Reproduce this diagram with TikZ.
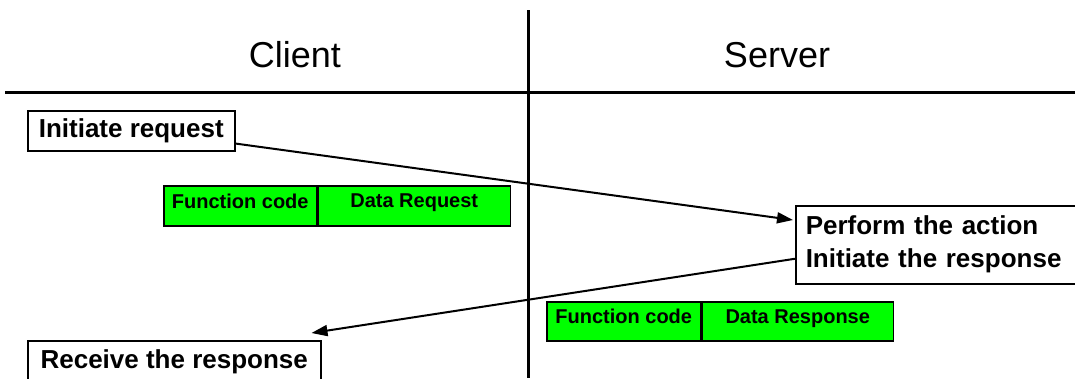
\documentclass[tikz,border=0pt]{standalone}
\usepackage{fontspec}
\setmainfont{Liberation Sans}
\usetikzlibrary{arrows.meta,calc,positioning}

\begin{document}
\begin{tikzpicture}[x=1pt,y=-1pt,
		stepbox/.style={draw=black,line width=1.5pt,fill=white,inner sep=0pt,
			font=\fontsize{26}{33}\selectfont\bfseries},
		cell/.style={draw=black,line width=1.5pt,fill=green,inner sep=0pt,
			minimum height=40pt,text depth=10pt,font=\fontsize{20}{24}\selectfont\bfseries},
		msg/.style={line width=2pt,-{Triangle[length=16pt,width=11pt]}},
		lane/.style={line width=3pt},
		head/.style={font=\fontsize{36}{40}\selectfont}]
		\useasboundingbox (0,0) rectangle (1075,378);
		
		% lanes
		\draw[lane] (528,10) -- (528,378);
		\draw[lane] (5,92) -- (1075,92);
		\node[head] (client) at (295,55) {Client};
		\node[head] (server) at (777,55) {Server};
		
		% steps
		\node[stepbox,anchor=north west,minimum width=207pt,minimum height=40pt]
			(init) at (27,110) {Initiate request};
		\node[stepbox,anchor=north west,minimum width=290pt,minimum height=78pt,
			text width=270pt,align=left]
			(perform) at (795,205) {Perform the action\\Initiate the response};
		\node[stepbox,anchor=north west,minimum width=293pt,minimum height=42pt]
			(recv) at (27,340) {Receive the response};
		
		% frames
		\node[cell,anchor=north west,minimum width=153pt] (reqfc) at (163,185) {Function code};
		\node[cell,right=0pt of reqfc,minimum width=192pt] (reqdata) {Data Request};
		\node[cell,anchor=north west,minimum width=154pt,minimum height=39pt] (resfc) at (546,301) {Function code};
		\node[cell,right=0pt of resfc,minimum width=191pt,minimum height=39pt] (resdata) {Data Response};
		
		% messages
		\draw[msg] (init.353) -- ($(perform.north west)+(-2,15)$);
		\draw[msg] ($(perform.west)+(0,14)$) -- ($(recv.north east)+(-10,-7)$);
	\end{tikzpicture}
\end{document}
